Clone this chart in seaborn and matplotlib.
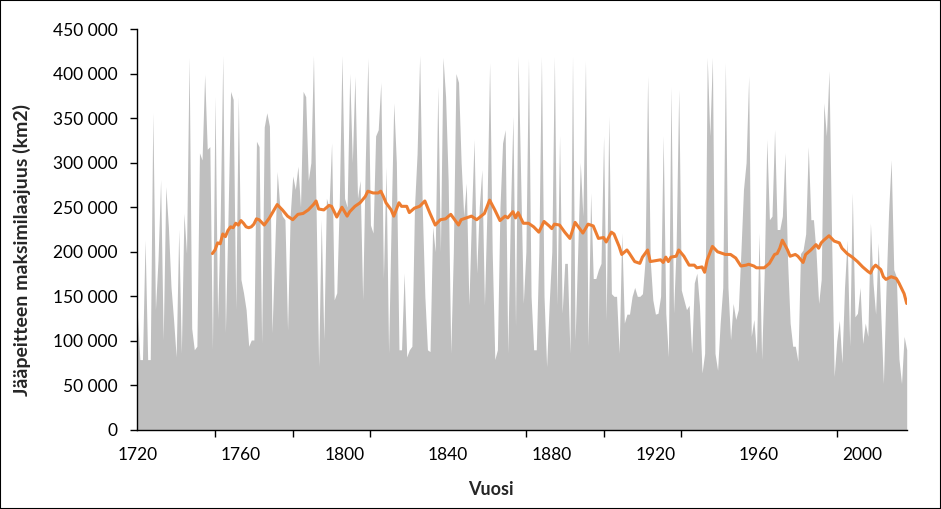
import matplotlib
matplotlib.use('Agg')
import matplotlib.pyplot as plt
import matplotlib.ticker as mticker
from matplotlib.patches import Rectangle
import numpy as np
import pandas as pd
import seaborn as sns

sns.set_theme(style='white')
plt.rcParams['font.family'] = ['Lato', 'DejaVu Sans']

# Baltic Sea maximum ice extent per winter, 1000 km2 (one row per decade)
first_year = 1720
ice_1000km2 = [
    131, 79, 79, 213, 79, 79, 356, 135, 191, 281,      # 1720
    101, 273, 228, 161, 124, 82, 225, 86, 243, 198,    # 1730
    418, 114, 90, 94, 311, 303, 399, 315, 318, 90,     # 1740
    374, 124, 236, 420, 109, 236, 380, 371, 135, 374,  # 1750
    169, 154, 135, 94, 101, 101, 324, 318, 97, 340,    # 1760
    356, 341, 109, 198, 290, 251, 240, 236, 112, 240,  # 1770
    285, 270, 296, 250, 380, 374, 280, 300, 420, 250,  # 1780
    71, 236, 101, 260, 250, 322, 146, 154, 260, 420,   # 1790
    260, 250, 400, 300, 397, 260, 280, 146, 300, 417,  # 1800
    230, 221, 330, 337, 390, 170, 295, 86, 236, 367,   # 1810
    300, 90, 90, 176, 82, 90, 94, 250, 310, 420,       # 1820
    250, 150, 90, 88, 228, 200, 385, 200, 418, 374,    # 1830
    280, 86, 200, 400, 390, 300, 240, 277, 140, 240,   # 1840
    326, 176, 250, 292, 140, 250, 412, 200, 79, 90,    # 1850
    250, 322, 337, 86, 240, 352, 116, 419, 281, 142,   # 1860
    200, 416, 150, 90, 90, 200, 419, 150, 71, 142,     # 1870
    200, 419, 140, 330, 131, 187, 187, 86, 419, 101,   # 1880
    200, 300, 240, 414, 94, 266, 170, 170, 180, 187,   # 1890
    330, 123, 352, 153, 150, 150, 86, 221, 120, 130,   # 1900
    130, 150, 160, 150, 150, 153, 190, 397, 190, 146,  # 1910
    130, 131, 150, 330, 131, 82, 385, 131, 206, 382,   # 1920
    157, 146, 135, 140, 86, 165, 176, 140, 64, 86,     # 1930
    418, 330, 418, 86, 67, 120, 160, 412, 160, 101,    # 1940
    142, 124, 135, 200, 270, 300, 397, 105, 124, 86,   # 1950
    221, 79, 176, 326, 236, 240, 337, 225, 225, 240,   # 1960
    311, 191, 120, 94, 94, 77, 198, 202, 220, 318,     # 1970
    236, 236, 200, 142, 169, 367, 330, 403, 217, 60,   # 1980
    100, 123, 75, 160, 213, 94, 266, 127, 131, 160,    # 1990
    97, 120, 105, 232, 165, 130, 210, 130, 52, 157,    # 2000
    244, 303, 180, 172, 80, 52, 105, 90,               # 2010
]

# 30-year moving average (orange line), 1000 km2
ma_years = [
    1749, 1750, 1751, 1752, 1753, 1754, 1755, 1756, 1757, 1758, 1759, 1760,
    1761, 1762, 1763, 1764, 1765, 1766, 1767, 1769, 1771, 1772, 1774, 1776,
    1778, 1780, 1782, 1784, 1786, 1788, 1789, 1790, 1792, 1794, 1795, 1797,
    1799, 1801, 1802, 1804, 1806, 1808, 1809, 1811, 1813, 1814, 1815, 1816,
    1818, 1819, 1821, 1822, 1824, 1825, 1827, 1829, 1831, 1833, 1835, 1837,
    1839, 1841, 1843, 1844, 1845, 1847, 1849, 1851, 1854, 1856, 1858, 1860,
    1862, 1863, 1865, 1866, 1867, 1869, 1871, 1873, 1875, 1877, 1879, 1880,
    1881, 1883, 1885, 1887, 1889, 1891, 1892, 1894, 1896, 1898, 1900, 1901,
    1903, 1904, 1906, 1907, 1909, 1910, 1912, 1914, 1915, 1917, 1918, 1920,
    1922, 1923, 1924, 1925, 1926, 1928, 1929, 1931, 1933, 1935, 1936, 1938,
    1939, 1940, 1942, 1944, 1947, 1949, 1951, 1953, 1955, 1956, 1958, 1959,
    1961, 1962, 1964, 1966, 1967, 1968, 1969, 1971, 1972, 1974, 1975, 1977,
    1978, 1980, 1982, 1983, 1984, 1985, 1987, 1988, 1989, 1991, 1992, 1994,
    1996, 1998, 2000, 2002, 2003, 2004, 2005, 2007, 2008, 2009, 2011, 2013,
    2014, 2016, 2017,
]
ma_1000km2 = [
    198, 202, 210, 209, 220, 217, 224, 228, 227, 232, 230, 235,
    232, 228, 227, 228, 231, 237, 236, 230, 238, 243, 253, 247,
    240, 236, 242, 243, 247, 253, 257, 248, 247, 252, 251, 239,
    250, 240, 245, 251, 255, 262, 268, 266, 266, 268, 262, 255,
    247, 240, 255, 251, 251, 244, 249, 251, 257, 243, 230, 236,
    237, 242, 234, 230, 236, 238, 240, 236, 243, 258, 247, 235,
    240, 238, 245, 238, 244, 232, 232, 228, 222, 234, 229, 226,
    231, 230, 222, 215, 233, 225, 221, 231, 229, 215, 216, 211,
    222, 220, 206, 197, 202, 198, 189, 187, 194, 202, 189, 190,
    191, 188, 194, 189, 194, 195, 202, 195, 185, 185, 182, 183,
    177, 191, 206, 200, 197, 197, 193, 184, 185, 186, 184, 182,
    182, 182, 187, 197, 198, 204, 213, 202, 195, 197, 195, 188,
    197, 202, 208, 204, 210, 213, 218, 215, 212, 210, 204, 198,
    194, 189, 183, 178, 176, 182, 185, 180, 172, 169, 172, 170,
    165, 153, 142,
]

label_years = [1720, 1760, 1800, 1840, 1880, 1920, 1960, 2000]
tick_years = [1720, 1750, 1780, 1810, 1840, 1870, 1900, 1930, 1960, 1990]

df = pd.DataFrame({
    'year': np.arange(first_year, first_year + len(ice_1000km2)),
    'extent': np.array(ice_1000km2) * 1000,
})
trend = pd.DataFrame({'year': ma_years, 'extent': np.array(ma_1000km2) * 1000})

fig = plt.figure(figsize=(9.41, 5.09), dpi=100)
ax = fig.add_axes([137.3 / 941, 1 - 430 / 509, (906.7 - 137.3) / 941, 401 / 509])

ax.fill_between(df['year'], df['extent'], 0, color='#BFBFBF', linewidth=0)
sns.lineplot(data=trend, x='year', y='extent', color='#ED7D31',
             linewidth=2.2, ax=ax)

ax.set_xlim(df['year'].min(), df['year'].max())
ax.set_ylim(0, 450000)
ax.xaxis.set_major_locator(mticker.FixedLocator(label_years))
ax.xaxis.set_minor_locator(mticker.FixedLocator(tick_years))
ax.yaxis.set_major_locator(mticker.MultipleLocator(50000))
ax.yaxis.set_major_formatter(
    mticker.FuncFormatter(lambda v, _: f'{int(v):,}'.replace(',', ' ')))

ax.tick_params(axis='x', which='major', length=0, pad=12, labelsize=12.5,
               labelcolor='black')
ax.tick_params(axis='x', which='minor', bottom=True, length=5, width=1,
               color='black', direction='out')
ax.tick_params(axis='y', left=True, length=5, width=1, color='black',
               direction='out', pad=9, labelsize=12.5, labelcolor='black')

sns.despine(ax=ax)
for side in ('left', 'bottom'):
    ax.spines[side].set_color('black')
    ax.spines[side].set_linewidth(1)

ax.set_ylabel('Jääpeitteen maksimilaajuus (km2)', fontsize=14, fontweight='bold')
ax.yaxis.set_label_coords(-0.138, 0.449)
ax.set_xlabel('Vuosi', fontsize=13, fontweight='bold')
ax.xaxis.set_label_coords(0.46, -0.127)

fig.add_artist(Rectangle((0, 0), 1, 1, transform=fig.transFigure, fill=False,
                         edgecolor='black', linewidth=1.5))

fig.savefig('out.png', dpi=100)
